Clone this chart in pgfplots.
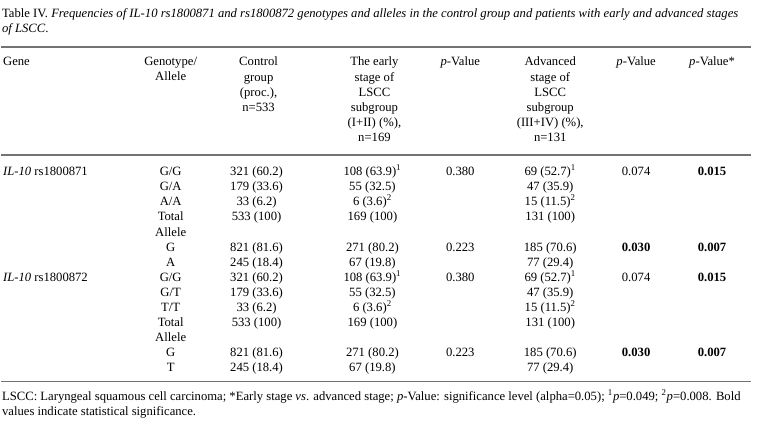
\documentclass[border=0pt]{standalone}
\usepackage{fontspec}
\setmainfont{Liberation Serif}
\usepackage{pgfplots}
\usepackage{pgfplotstable}
\pgfplotsset{compat=1.18}

% table body: one row per line, y = 176 + 15.08*row (pixels, baseline)
\pgfplotstableread[col sep=semicolon, header=true]{
gene;geno;ctl;early;pa;adv;pb;pc
\textit{IL-10} rs1800871;G/G;321 (60.2);108 (63.9)\textsuperscript{1};0.380;69 (52.7)\textsuperscript{1};0.074;\textbf{0.015}
{};G/A;179 (33.6);55 (32.5);{};47 (35.9);{};{}
{};A/A;33 (6.2);6 (3.6)\textsuperscript{2};{};15 (11.5)\textsuperscript{2};{};{}
{};Total;533 (100);169 (100);{};131 (100);{};{}
{};Allele;{};{};{};{};{};{}
{};G;821 (81.6);271 (80.2);0.223;185 (70.6);\textbf{0.030};\textbf{0.007}
{};A;245 (18.4);67 (19.8);{};77 (29.4);{};{}
\textit{IL-10} rs1800872;G/G;321 (60.2);108 (63.9)\textsuperscript{1};0.380;69 (52.7)\textsuperscript{1};0.074;\textbf{0.015}
{};G/T;179 (33.6);55 (32.5);{};47 (35.9);{};{}
{};T/T;33 (6.2);6 (3.6)\textsuperscript{2};{};15 (11.5)\textsuperscript{2};{};{}
{};Total;533 (100);169 (100);{};131 (100);{};{}
{};Allele;{};{};{};{};{};{}
{};G;821 (81.6);271 (80.2);0.223;185 (70.6);\textbf{0.030};\textbf{0.007}
{};T;245 (18.4);67 (19.8);{};77 (29.4);{};{}
}\tabdata

\newcommand{\tfont}{\fontsize{9.5}{11.3}\selectfont}
\newcommand{\col}[3]{% x position, column, anchor
  \addplot[draw=none, mark=none, nodes near coords, point meta=explicit symbolic,
    every node near coord/.style={anchor=#3, inner sep=0pt, font=\tfont, text=black}]
    table[x expr=#1, y expr=176+15.08*\coordindex, meta=#2] {\tabdata};
}

\begin{document}
\begin{tikzpicture}
\begin{axis}[
    scale only axis, width=567.75pt, height=325.5pt,
    xmin=0, xmax=757, ymin=0, ymax=434, y dir=reverse,
    hide axis, clip=false,
]
\path (axis cs:0,0) rectangle (axis cs:757,434);

% title
\node[anchor=base west, inner sep=0pt, font=\tfont] at (axis cs:1,18)
  {Table IV. \textit{Frequencies of IL-10 rs1800871 and rs1800872 genotypes and alleles in the control group and patients with early and advanced stages}};
\node[anchor=base west, inner sep=0pt, font=\tfont] at (axis cs:1,33) {\textit{of LSCC}.};

% rules
\draw[black!55, line width=1.3pt] (axis cs:0,47) -- (axis cs:751,47);
\draw[black!55, line width=1.3pt] (axis cs:0,155) -- (axis cs:751,155);
\draw[black!55, line width=1.3pt] (axis cs:0,382) -- (axis cs:751,382);

% header
\begin{scope}[every node/.style={anchor=north, inner sep=0pt, align=center, font=\tfont}]
\node[anchor=north west, align=left] at (axis cs:2,57) {Gene};
\node at (axis cs:170,57) {Genotype/\\Allele};
\node at (axis cs:258,57) {Control\\group\\(proc.),\\n=533};
\node at (axis cs:374,57) {The early\\stage of\\LSCC\\subgroup\\(I+II) (\%),\\n=169};
\node at (axis cs:460,57) {\textit{p}-Value};
\node at (axis cs:550,57) {Advanced\\stage of\\LSCC\\subgroup\\(III+IV) (\%),\\n=131};
\node at (axis cs:636,57) {\textit{p}-Value};
\node at (axis cs:712,57) {\textit{p}-Value*};
\end{scope}

% body
\col{2}{gene}{base west}
\col{170}{geno}{base}
\col{256}{ctl}{base}
\col{372}{early}{base}
\col{460}{pa}{base}
\col{550}{adv}{base}
\col{636}{pb}{base}
\col{712}{pc}{base}

% footnote
\node[anchor=base west, inner sep=0pt, font=\tfont] at (axis cs:1,401)
  {LSCC: Laryngeal squamous cell carcinoma; *Early stage \textit{vs}. advanced stage; \textit{p}-Value: significance level (alpha=0.05); \textsuperscript{1}\textit{p}=0.049; \textsuperscript{2}\textit{p}=0.008. Bold};
\node[anchor=base west, inner sep=0pt, font=\tfont] at (axis cs:1,416)
  {values indicate statistical significance.};
\end{axis}
\end{tikzpicture}
\end{document}
